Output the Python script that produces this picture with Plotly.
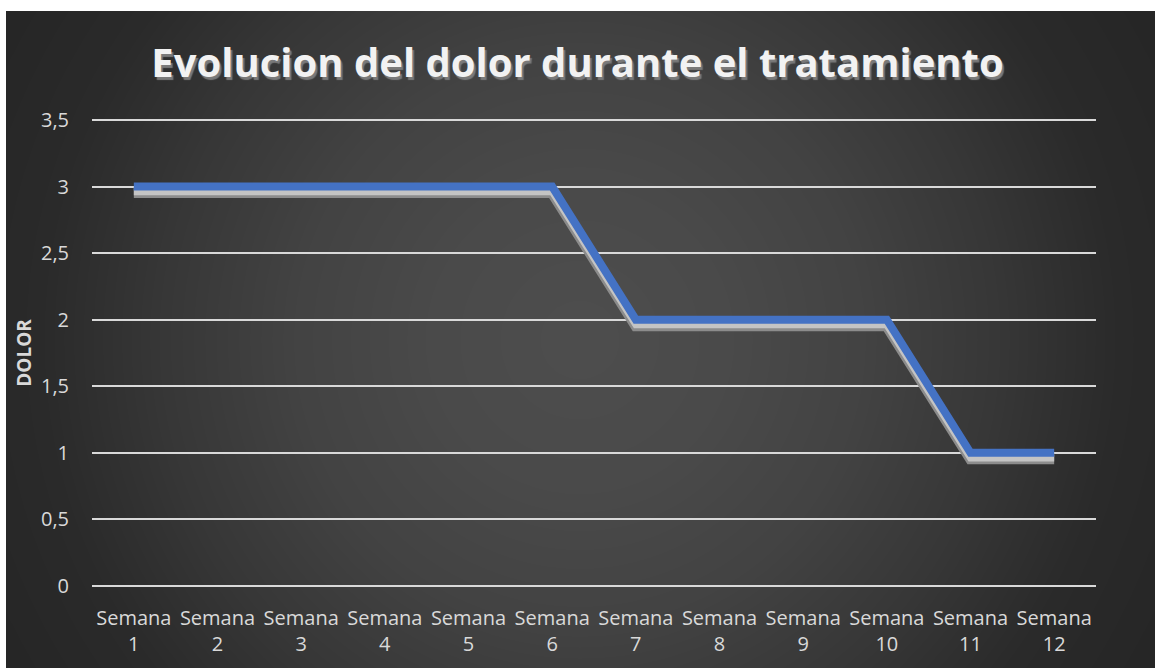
import plotly.graph_objects as go

# ---- data ----
weeks = ["Semana 1", "Semana 2", "Semana 3", "Semana 4", "Semana 5", "Semana 6",
         "Semana 7", "Semana 8", "Semana 9", "Semana 10", "Semana 11", "Semana 12"]
dolor = [3, 3, 3, 3, 3, 3, 2, 2, 2, 2, 1, 1]
y_ticks = [0, 0.5, 1, 1.5, 2, 2.5, 3, 3.5]
y_ticktext = ["0", "0,5", "1", "1,5", "2", "2,5", "3", "3,5"]
tick_labels = [w.replace(" ", "<br>") for w in weeks]

# ---- geometry / style ----
W, H = 1155, 668
ML, MR, MT, MB = 92, 59, 118, 80
PW, PH = W - ML - MR, H - MT - MB
YPAD = 0.015
FONT = "Open Sans"

def px_x(px):
    return (px - ML) / PW

def px_y(py):
    return (H - MB - py) / PH

fig = go.Figure()

# line shadow (derived from the data, shifted slightly down)
shadow_off = 6 / (PH / (3.5 + 2 * YPAD))
fig.add_trace(go.Scatter(x=weeks, y=[v - shadow_off for v in dolor], mode="lines",
                         line=dict(color="#8c8c8c", width=11), hoverinfo="skip",
                         showlegend=False))
fig.add_trace(go.Scatter(x=weeks, y=[v - shadow_off * 0.85 for v in dolor], mode="lines",
                         line=dict(color="#c4c4c4", width=7), hoverinfo="skip",
                         showlegend=False))
fig.add_trace(go.Scatter(x=weeks, y=dolor, mode="lines",
                         line=dict(color="#4472C4", width=8), name="DOLOR",
                         showlegend=False))

# background: dark chart area + radial brightening
shapes = [dict(type="rect", xref="paper", yref="paper", layer="below",
               x0=px_x(6), x1=px_x(W + 5), y0=px_y(H + 5), y1=px_y(11),
               fillcolor="#262626", line=dict(width=0))]
cx, cy = 580, 340
prof_d = [0, 150, 286, 420, 541, 663]
prof_v = [86, 82, 74, 60, 44, 38]

def f(d):
    for i in range(len(prof_d) - 1):
        if d <= prof_d[i + 1]:
            t = (d - prof_d[i]) / (prof_d[i + 1] - prof_d[i])
            return prof_v[i] + t * (prof_v[i + 1] - prof_v[i])
    return prof_v[-1]

N = 40
base = 38
target_center = 86
ratio = (255 - target_center) / (255 - base)
alpha = 1 - ratio ** (1 / N)
for k in range(1, N + 1):
    val = 255 - (255 - base) * (1 - alpha) ** k
    lo, hi = 0.0, 663.0
    for _ in range(40):
        mid = (lo + hi) / 2
        if f(mid) > val:
            lo = mid
        else:
            hi = mid
    r = (lo + hi) / 2
    shapes.append(dict(type="circle", xref="paper", yref="paper", layer="below",
                       x0=px_x(cx - r), x1=px_x(cx + r),
                       y0=px_y(cy + r), y1=px_y(cy - r),
                       fillcolor="rgba(255,255,255,%.4f)" % alpha,
                       line=dict(width=0)))

fig.update_layout(
    width=W, height=H,
    margin=dict(l=ML, r=MR, t=MT, b=MB, autoexpand=False),
    paper_bgcolor="white",
    plot_bgcolor="rgba(0,0,0,0)",
    shapes=shapes,
    font=dict(family=FONT, color="#d9d9d9", size=20),
    title=dict(text="Evolucion del dolor durante el tratamiento",
               x=0.5, xref="container", xanchor="center",
               y=1 - 63 / H, yref="container", yanchor="middle",
               font=dict(family=FONT, size=40, color="#f2f2f2", weight="bold",
                         shadow="2px 3px 1px #7a7a7a")),
    xaxis=dict(type="category", tickvals=weeks, ticktext=tick_labels,
               range=[-0.5, len(weeks) - 0.5],
               showgrid=False, showline=False, zeroline=False, ticks="",
               ticklabelstandoff=16,
               tickfont=dict(family=FONT, size=20, color="#d9d9d9")),
    yaxis=dict(range=[-YPAD, 3.5 + YPAD], tickvals=y_ticks, ticktext=y_ticktext,
               showgrid=True, gridcolor="#d9d9d9", gridwidth=1.5,
               zeroline=True, zerolinecolor="#d9d9d9", zerolinewidth=1.5,
               showline=False, ticks="",
               ticklabelstandoff=22,
               tickfont=dict(family=FONT, size=20, color="#d9d9d9"),
               title=dict(text="<b>DOLOR</b>", standoff=4,
                          font=dict(family=FONT, size=19, color="#d9d9d9"))),
    showlegend=False,
)

fig.write_html("out.html", config={"displayModeBar": False},
               post_script="document.body.style.margin='0';document.body.style.overflow='hidden';")
